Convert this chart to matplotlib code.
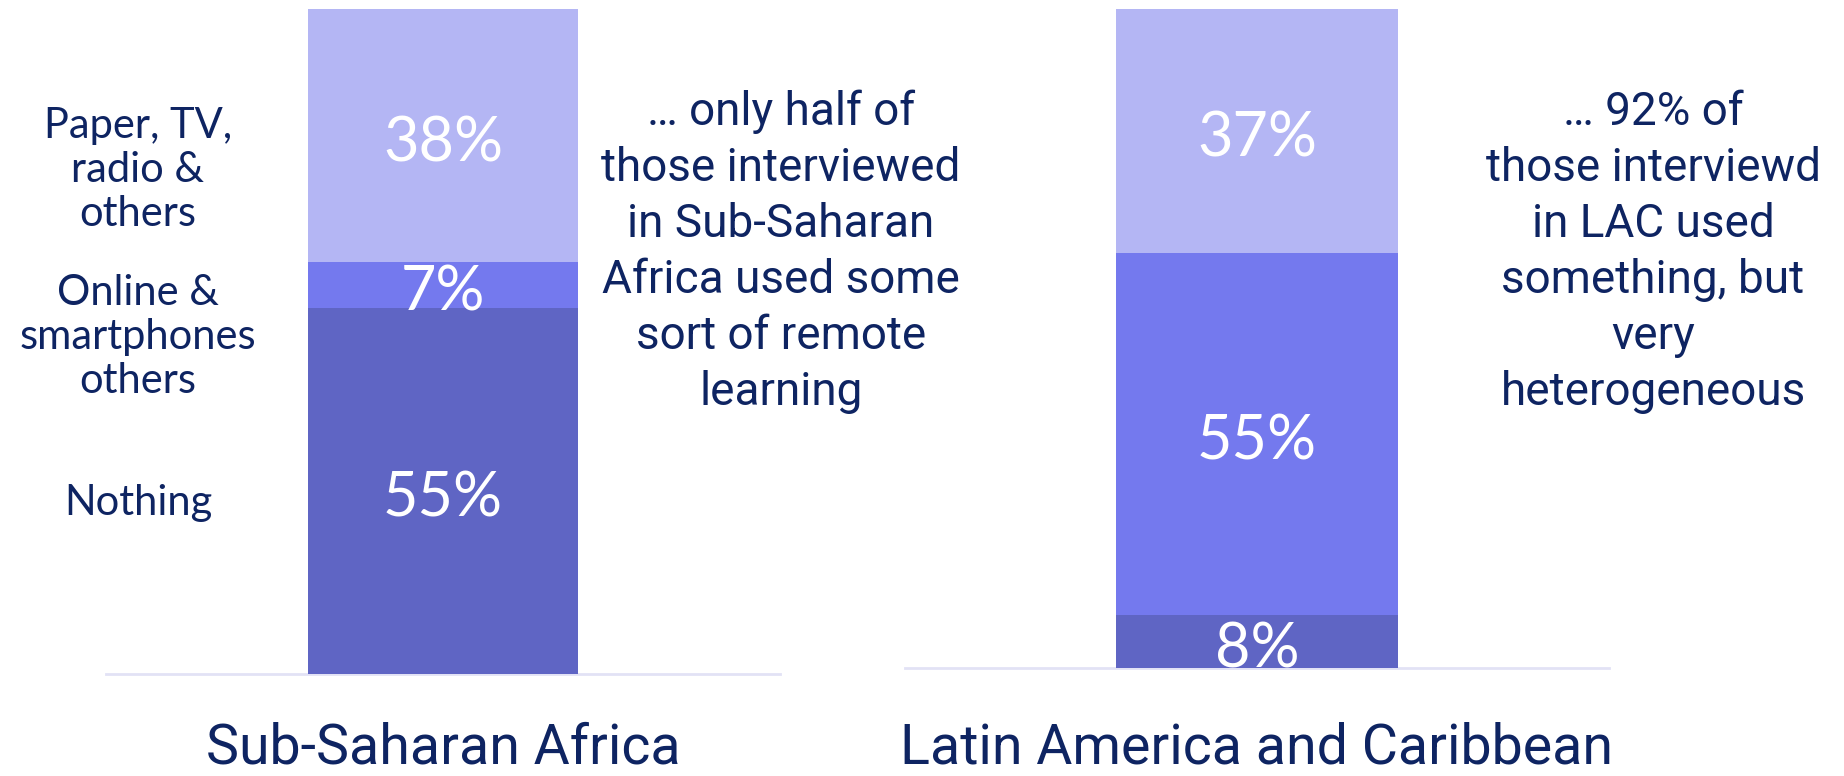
import matplotlib
matplotlib.use("Agg")
import matplotlib.pyplot as plt

# Survey shares of remote-learning channels, by region
regions = ["Sub-Saharan Africa", "Latin America and Caribbean"]
channels = ["Nothing", "Online & smartphones others", "Paper, TV, radio & others"]
ssa_values = [55, 7, 38]
lac_values = [8, 55, 37]
channel_labels = ["Nothing", "Online &\nsmartphones\nothers", "Paper, TV,\nradio &\nothers"]
notes = [
    "\u2026 only half of\nthose interviewed\nin Sub-Saharan\nAfrica used some\nsort of remote\nlearning",
    "\u2026 92% of\nthose interviewd\nin LAC used\nsomething, but\nvery\nheterogeneous",
]

colors = ["#5F65C4", "#7479EE", "#B4B6F4"]
navy = "#0E2462"
base_color = "#E2E2F5"

note_font = "Roboto"
label_font = "Lato"

W, H = 1844, 776
fig = plt.figure(figsize=(W / 100, H / 100), dpi=100)
fig.patch.set_facecolor("white")


def px_axes(x0, x1, ytop, ybot):
    return fig.add_axes([x0 / W, 1 - ybot / H, (x1 - x0) / W, (ybot - ytop) / H])


axes = [px_axes(106, 780, 9, 674), px_axes(905, 1609, 9, 668)]
series = [ssa_values, lac_values]

for ax, vals in zip(axes, series):
    bottom = 0
    for v, c in zip(vals, colors):
        ax.bar(0, v, bottom=bottom, width=0.8, color=c, linewidth=0)
        ax.annotate(f"{v}%", (0, bottom + v / 2), xytext=(0, -6),
                    textcoords="offset points", ha="center", va="center",
                    color="white", fontsize=44, family=label_font,
                    fontweight="normal")
        bottom += v
    ax.set_xlim(-1, 1)
    ax.set_ylim(0, 100)
    ax.axhline(0, color=base_color, lw=2, clip_on=False, zorder=0)
    ax.axis("off")

# Region names under each bar
fig.text(443 / W, 1 - 748 / H, regions[0], ha="center", va="center",
         color=navy, fontsize=40, family=note_font, fontweight="normal")
fig.text(1256 / W, 1 - 748 / H, regions[1], ha="center", va="center",
         color=navy, fontsize=40, family=note_font, fontweight="normal")

# Channel names on the left of the first bar
label_y = [503, 337, 170]
for lab, y in zip(channel_labels, label_y):
    fig.text(138 / W, 1 - y / H, lab, ha="center", va="center", color=navy,
             fontsize=30, family=label_font, fontweight="normal", linespacing=1.2)

# Commentary beside each bar
fig.text(781 / W, 1 - 252 / H, notes[0], ha="center", va="center", color=navy,
         fontsize=33, family=note_font, fontweight="normal", linespacing=1.34)
fig.text(1653 / W, 1 - 252 / H, notes[1], ha="center", va="center", color=navy,
         fontsize=33, family=note_font, fontweight="normal", linespacing=1.34)

fig.savefig("out.png", dpi=100, facecolor="white")
